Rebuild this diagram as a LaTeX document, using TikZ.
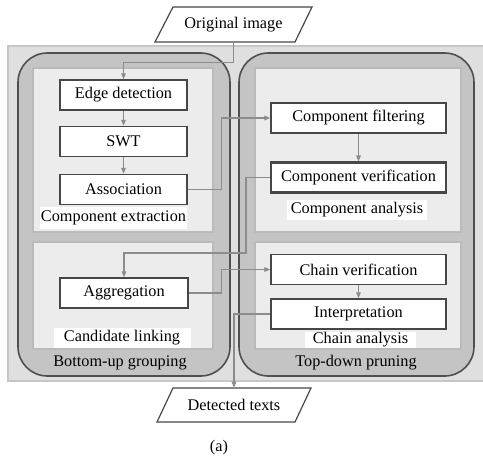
\documentclass[tikz,border=0pt]{standalone}
\usepackage{fontspec}
\setmainfont{Liberation Serif}
\newfontfamily\labelfont{Liberation Serif}
\usetikzlibrary{arrows.meta,calc}
\definecolor{outerfill}{HTML}{DFDFDF}
\definecolor{outerline}{HTML}{C6C6C6}
\definecolor{groupfill}{HTML}{C4C4C4}
\definecolor{groupline}{HTML}{4F4F4F}
\definecolor{panelfill}{HTML}{ECECEC}
\definecolor{panelline}{HTML}{BABABA}
\definecolor{boxline}{HTML}{474747}
\definecolor{connc}{HTML}{8C8C8C}
\begin{document}
\begin{tikzpicture}[x=0.75pt,y=-0.75pt,
  font=\labelfont\fontsize{12.2}{14}\selectfont,
  stage/.style={draw=boxline, fill=white, line width=1.1pt,
    minimum width=127*0.75pt, minimum height=30*0.75pt, inner sep=0pt},
  widestage/.style={stage, minimum width=175*0.75pt},
  conn/.style={draw=connc, line width=0.9pt,
    -{Triangle[length=4.5pt,width=3.5pt]}},
  group/.style={draw=groupline, fill=groupfill, line width=1.2pt,
    rounded corners=22pt},
  panel/.style={draw=panelline, fill=panelfill, line width=1.5pt},
  tag/.style={fill=white, inner sep=0pt},
  io/.style={inner sep=0pt, minimum width=140*0.75pt},
  ioframe/.style={draw=boxline, line width=0.9pt}]

\useasboundingbox (0,0) rectangle (483,461);

% background frame and the two grouping stages
\draw[draw=outerline, fill=outerfill, line width=1.6pt] (8,46) rectangle (495,381);
\draw[group] (18,53) rectangle (230,376);
\draw[group] (239,53) rectangle (474,376);

% inner panels
\draw[panel] (33,68) rectangle (213,232);
\draw[panel] (33,242) rectangle (213,349);
\draw[panel] (255,68) rectangle (461,232);
\draw[panel] (255,242) rectangle (461,349);

% panel captions
\node[tag, minimum width=147*0.75pt, minimum height=22*0.75pt] (tagext) at (113.5,218) {Component extraction};
\node[tag, minimum width=140*0.75pt, minimum height=20*0.75pt] (tagana) at (357,210) {Component analysis};
\node[tag, minimum width=137*0.75pt, minimum height=20*0.75pt] (taglink) at (122,338) {Candidate linking};
\node[tag, minimum width=111*0.75pt, minimum height=16*0.75pt] (tagchain) at (360.5,339.5) {Chain analysis};
\node (tagbu) at (120,363) {Bottom-up grouping};
\node (tagtd) at (356,363) {Top-down pruning};

% input and output
\node[io, minimum height=35*0.75pt] (orig) at (233.5,24.5) {Original image};
\draw[ioframe] ($(orig.center)+(-78.5,17.5)$) -- ($(orig.center)+(-60.5,-17.5)$)
  -- ($(orig.center)+(78.5,-17.5)$) -- ($(orig.center)+(61.5,17.5)$) -- cycle;
\node[io, minimum height=34*0.75pt] (det) at (234,405) {Detected texts};
\draw[ioframe] ($(det.center)+(-77,17)$) -- ($(det.center)+(-61,-17)$)
  -- ($(det.center)+(77,-17)$) -- ($(det.center)+(61,17)$) -- cycle;

% processing steps
\node[stage] (edge) at (123.5,95) {Edge detection};
\node[stage] (swt) at (123.5,141.5) {SWT};
\node[stage] (assoc) at (123.5,189.5) {Association};
\node[stage, minimum width=128*0.75pt] (aggr) at (124,293) {Aggregation};
\node[widestage] (filt) at (358.5,118) {Component filtering};
\node[widestage, line width=1.6pt] (verif) at (358.5,177.5) {Component verification};
\node[widestage] (chainv) at (358.5,269.5) {Chain verification};
\node[widestage] (interp) at (358.5,314) {Interpretation};

% connectors
\draw[conn] (orig.south) -- ++(0,20) -| (edge.north);
\draw[conn] (edge) -- (swt);
\draw[conn] (swt) -- (assoc);
\draw[conn] (assoc.east) -- ++(34,0) |- (filt.west);
\draw[conn] (filt) -- (verif);
\draw[conn] (verif.west) -- ++(-24,0) -- ++(0,75.5) -| (aggr.north);
\draw[conn] (aggr.east) -- ++(33,0) |- (chainv.west);
\draw[conn] (chainv) -- (interp);
\draw[conn] (interp.west) -| (det.north);

\node (cap) at (219,448) {(a)};
\end{tikzpicture}
\end{document}
